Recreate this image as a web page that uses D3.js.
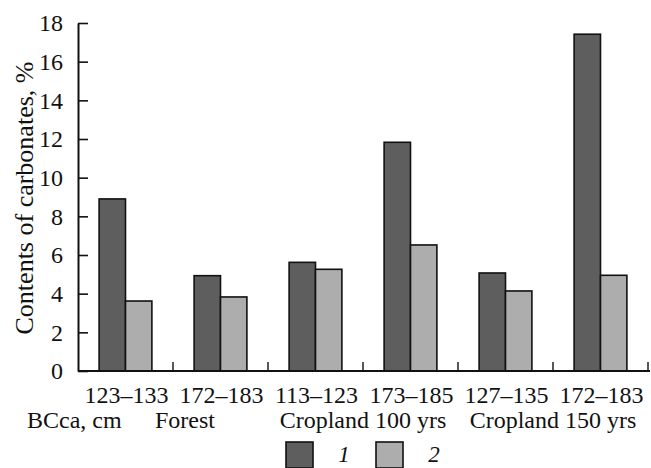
<!DOCTYPE html>
<html><head><meta charset="utf-8">
<script src="https://cdn.jsdelivr.net/npm/d3@7"></script>
<style>
body{margin:0;background:#fff;}
svg text{font-family:"Liberation Serif","Times New Roman",serif;fill:#111;}
</style></head>
<body><svg id="c" width="651" height="468"></svg>
<script>
const categories = ["123–133","172–183","113–123","173–185","127–135","172–183 "];
const series1 = [8.9, 4.93, 5.62, 11.83, 5.07, 17.42];
const series2 = [3.62, 3.83, 5.26, 6.52, 4.14, 4.95];
const seriesNames = ["1","2"];
const yTicks = [0,2,4,6,8,10,12,14,16,18];
const siteLabels = ["Forest","Cropland 100 yrs","Cropland 150 yrs"];
const siteCenters = [1, 3, 5]; // boundary index between groups
const colors = ["#5e5e5e","#adadad"];

const FONT = '"Liberation Serif", "Times New Roman", serif';
const svg = d3.select("#c");
const mLeft = 78, mRight = 648, mTop = 23, mBottom = 371;

const x0 = d3.scaleBand().domain(categories).range([mLeft, mRight]).padding(0);
const x1 = d3.scaleBand().domain(seriesNames).range([0, x0.bandwidth()]).paddingInner(0).paddingOuter(0.8);
const y = d3.scaleLinear().domain([0,18]).range([mBottom, mTop]);

const data = categories.map((c,i)=>({cat:c, vals:[series1[i], series2[i]]}));

// bars
const g = svg.append("g");
data.forEach(d=>{
  d.vals.forEach((v,j)=>{
    g.append("rect")
      .attr("x", x0(d.cat)+x1(seriesNames[j]))
      .attr("y", y(v))
      .attr("width", x1.bandwidth())
      .attr("height", y(0)-y(v))
      .attr("fill", colors[j])
      .attr("stroke","#111")
      .attr("stroke-width",1.6);
  });
});

// y axis
const yAxis = d3.axisLeft(y).tickValues(yTicks).tickSizeInner(-10).tickSizeOuter(0).tickPadding(15);
const ya = svg.append("g").attr("transform",`translate(${mLeft},0)`).call(yAxis);
ya.select(".domain").attr("stroke","#111").attr("stroke-width",2);
ya.selectAll(".tick line").attr("stroke","#111").attr("stroke-width",1.6);
ya.selectAll(".tick text").attr("font-size",24).style("font-family",FONT).attr("fill","#111");

// x axis baseline with upward boundary ticks
svg.append("line").attr("x1",mLeft).attr("x2",mRight+2).attr("y1",mBottom).attr("y2",mBottom)
  .attr("stroke","#111").attr("stroke-width",2);
categories.forEach((c,i)=>{
  const bx = x0(c)+x0.bandwidth();
  svg.append("line").attr("x1",bx).attr("x2",bx).attr("y1",mBottom).attr("y2",mBottom-9)
    .attr("stroke","#111").attr("stroke-width",1.4);
});
// category labels
categories.forEach(c=>{
  svg.append("text").attr("x", x0(c)+x0.bandwidth()/2+1).attr("y",403)
    .attr("text-anchor","middle").attr("font-size",24).style("font-family",FONT).text(c.trim());
});
// site labels
siteLabels.forEach((s,i)=>{
  let cx = x0(categories[siteCenters[i]]);
  if(i===0) cx += 12;
  svg.append("text").attr("x",cx).attr("y",428).attr("text-anchor","middle").attr("font-size",24).style("font-family",FONT).text(s);
});
svg.append("text").attr("x",27).attr("y",428).attr("font-size",24).style("font-family",FONT).text("BCca, cm");

// y title
svg.append("text").attr("transform","translate(33,198) rotate(-90)")
  .attr("text-anchor","middle").attr("font-size",26).style("font-family",FONT).text("Contents of carbonates, %");

// legend
const legX = [286, 376];
seriesNames.forEach((n,j)=>{
  svg.append("rect").attr("x",legX[j]).attr("y",442).attr("width",27).attr("height",26)
    .attr("fill",colors[j]).attr("stroke","#111").attr("stroke-width",1.6);
  svg.append("text").attr("x",legX[j]+58).attr("y",462).attr("font-size",23)
    .attr("font-style","italic").attr("text-anchor","middle").style("font-family",FONT).text(n);
});
</script></body></html>
